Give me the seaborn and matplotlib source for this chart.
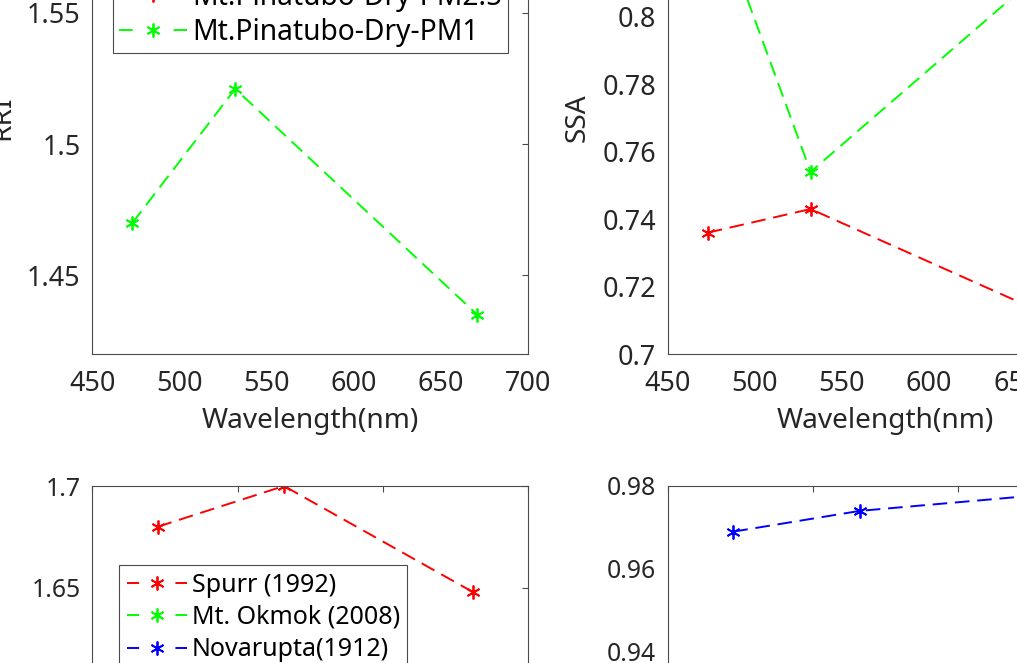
import numpy as np
import matplotlib
matplotlib.use("Agg")
import matplotlib.pyplot as plt
from matplotlib.lines import Line2D
from matplotlib.ticker import FuncFormatter
import seaborn as sns

# ---------------- data ----------------
wl_meas = [473, 532, 671]          # measurement wavelengths (nm)
wl_lit = [445, 532, 662]           # literature wavelengths (nm)

rri_pm25 = [1.570, 1.585, 1.565]   # Mt.Pinatubo-Dry-PM2.5 (out of view)
rri_pm1 = [1.470, 1.521, 1.435]    # Mt.Pinatubo-Dry-PM1
ssa_pm25 = [0.736, 0.743, 0.711]
ssa_pm1 = [0.837, 0.754, 0.816]

rri_spurr = [1.680, 1.700, 1.648]
rri_okmok = [1.520, 1.530, 1.510]      # out of view
rri_novarupta = [1.545, 1.555, 1.540]  # out of view
ssa_spurr = [0.920, 0.925, 0.915]      # out of view
ssa_okmok = [0.900, 0.905, 0.895]      # out of view
ssa_novarupta = [0.969, 0.974, 0.978]

top_labels = ["Mt.Pinatubo-Dry-PM2.5", "Mt.Pinatubo-Dry-PM1"]
lit_labels = ["Spurr (1992)", "Mt. Okmok (2008)", "Novarupta(1912)"]

# ---------------- style ----------------
sns.set_theme(style="white")
plt.rcParams["font.family"] = ["Noto Sans", "DejaVu Sans"]
TXT = "#262626"
SPINE = "#4a4a4a"
plt.rcParams.update({
    "axes.edgecolor": SPINE, "axes.linewidth": 0.8,
    "xtick.color": SPINE, "ytick.color": SPINE,
    "xtick.labelcolor": TXT, "ytick.labelcolor": TXT,
    "axes.labelcolor": TXT,
})

W, H = 1017, 663
fig = plt.figure(figsize=(W / 100, H / 100), dpi=100, facecolor="white")

def rect(x0, ytop, w, h):
    return [x0 / W, 1 - (ytop + h) / H, w / W, h / H]

AW, AH = 435.7, 473
ax_tl = fig.add_axes(rect(92.3, 354.3 - AH, AW, AH))
ax_tr = fig.add_axes(rect(667.7, 354.3 - AH, AW, AH))
ax_bl = fig.add_axes(rect(92.3, 486, AW, AH))
ax_br = fig.add_axes(rect(668, 486, AW, AH))

RED, GREEN, BLUE = (1, 0, 0), (0, 1, 0), (0, 0, 1)
LW = 1.4
DASH = (0, (7.5, 4.0))
MK = (6, 2, 0)
MS, MEW = 10, 1.3

def draw(ax, x, y, c):
    sns.lineplot(x=x, y=y, ax=ax, color=c, linestyle=DASH, linewidth=LW,
                 marker=MK, markersize=MS, markeredgecolor=c,
                 markeredgewidth=MEW, legend=False, sort=False)

draw(ax_tl, wl_meas, rri_pm25, RED)
draw(ax_tl, wl_meas, rri_pm1, GREEN)
draw(ax_tr, wl_meas, ssa_pm25, RED)
draw(ax_tr, wl_meas, ssa_pm1, GREEN)
draw(ax_bl, wl_lit, rri_spurr, RED)
draw(ax_bl, wl_lit, rri_okmok, GREEN)
draw(ax_bl, wl_lit, rri_novarupta, BLUE)
draw(ax_br, wl_lit, ssa_spurr, RED)
draw(ax_br, wl_lit, ssa_okmok, GREEN)
draw(ax_br, wl_lit, ssa_novarupta, BLUE)

fmt = FuncFormatter(lambda v, p: ("%g" % round(v, 4)))

def style(ax, xlim, xticks, ylim, yticks, ylabel, fs, lfs):
    ax.set_xlim(*xlim)
    ax.set_ylim(*ylim)
    ax.set_xticks(xticks)
    ax.set_yticks(yticks)
    ax.xaxis.set_major_formatter(fmt)
    ax.yaxis.set_major_formatter(fmt)
    ax.tick_params(direction="in", length=4, width=0.8, labelsize=fs,
                   top=True, right=True)
    ax.tick_params(axis="y", pad=8.5)
    ax.tick_params(axis="x", pad=11.5)
    ax.set_xlabel("Wavelength(nm)", fontsize=lfs, labelpad=6.5)
    ax.set_ylabel(ylabel, fontsize=lfs, labelpad=7.5)
    for s in ax.spines.values():
        s.set_visible(True)
        s.set_color(SPINE)
        s.set_linewidth(0.8)

FS_TOP, LFS_TOP = 19.4, 20.2
FS_BOT, LFS_BOT = 17.8, 18.3
style(ax_tl, (450, 700), np.arange(450, 701, 50), (1.42, 1.60),
      np.arange(1.45, 1.601, 0.05), "RRI", FS_TOP, LFS_TOP)
style(ax_tr, (450, 700), np.arange(450, 701, 50), (0.70, 0.84),
      np.arange(0.70, 0.841, 0.02), "SSA", FS_TOP, LFS_TOP)
style(ax_bl, (400, 700), np.arange(400, 701, 100), (1.468, 1.70),
      np.arange(1.5, 1.701, 0.05), "RRI", FS_BOT, LFS_BOT)
style(ax_br, (400, 700), np.arange(400, 701, 100), (0.866, 0.98),
      np.arange(0.88, 0.981, 0.02), "SSA", FS_BOT, LFS_BOT)

HL = 2.42
lw_px = LW * 100 / 72

def handle(c, fs):
    L = HL * fs * 100 / 72
    return Line2D([], [], color=c, linewidth=LW,
                  linestyle=(0, (0.2 * L / lw_px, 0.6 * L / lw_px)),
                  marker=MK, markersize=MS, markeredgecolor=c,
                  markeredgewidth=MEW)

def leg_kw(fs, bp, ls):
    return dict(fontsize=fs, frameon=True, fancybox=False, shadow=False,
                framealpha=1, edgecolor=SPINE, handlelength=HL,
                handletextpad=0.18, borderpad=bp, labelspacing=ls,
                borderaxespad=0)

LEG_TOP, LEG_BOT = 20.3, 18.0
l1 = fig.legend([handle(RED, LEG_TOP), handle(GREEN, LEG_TOP)], top_labels,
                loc="lower left", bbox_to_anchor=(113.3 / W, 1 - 52.7 / H),
                **leg_kw(LEG_TOP, 0.2, 0.22))
l2 = fig.legend([handle(RED, LEG_BOT), handle(GREEN, LEG_BOT),
                 handle(BLUE, LEG_BOT)], lit_labels,
                loc="upper left", bbox_to_anchor=(119.3 / W, 1 - 565 / H),
                **leg_kw(LEG_BOT, 0.3, 0.3))
for l in (l1, l2):
    l.get_frame().set_linewidth(0.8)
    for t in l.get_texts():
        t.set_color("black")

fig.savefig("out.png", dpi=100, facecolor="white")
